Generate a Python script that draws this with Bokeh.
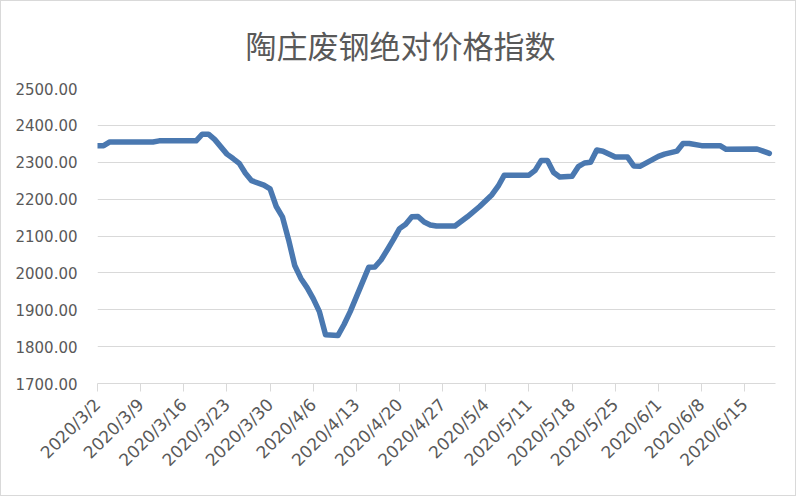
import pandas as pd
from bokeh.plotting import figure
from bokeh.models import Range1d, FixedTicker, NumeralTickFormatter
from bokeh.embed import file_html
from bokeh.resources import INLINE

title_text = "陶庄废钢绝对价格指数"

dates = ["2020-03-02", "2020-03-03", "2020-03-04", "2020-03-11", "2020-03-12", "2020-03-18",
         "2020-03-19", "2020-03-20", "2020-03-21", "2020-03-23", "2020-03-24", "2020-03-25",
         "2020-03-26", "2020-03-27", "2020-03-29", "2020-03-30", "2020-03-31", "2020-04-01",
         "2020-04-02", "2020-04-03", "2020-04-04", "2020-04-05", "2020-04-06", "2020-04-07",
         "2020-04-08", "2020-04-10", "2020-04-11", "2020-04-12", "2020-04-13", "2020-04-14",
         "2020-04-15", "2020-04-16", "2020-04-17", "2020-04-18", "2020-04-19", "2020-04-20",
         "2020-04-21", "2020-04-22", "2020-04-23", "2020-04-24", "2020-04-25", "2020-04-26",
         "2020-04-29", "2020-05-01", "2020-05-03", "2020-05-05", "2020-05-06", "2020-05-07",
         "2020-05-11", "2020-05-12", "2020-05-13", "2020-05-14", "2020-05-15", "2020-05-16",
         "2020-05-18", "2020-05-19", "2020-05-20", "2020-05-21", "2020-05-22", "2020-05-23",
         "2020-05-25", "2020-05-27", "2020-05-28", "2020-05-29", "2020-06-01", "2020-06-02",
         "2020-06-04", "2020-06-05", "2020-06-06", "2020-06-08", "2020-06-11", "2020-06-12",
         "2020-06-17", "2020-06-19"]

values = [2345, 2345, 2355, 2355, 2358, 2358,
          2376, 2376, 2362, 2322, 2310, 2297,
          2270, 2250, 2238, 2228, 2180, 2152,
          2090, 2020, 1985, 1960, 1930, 1895,
          1832, 1830, 1860, 1895, 1935, 1975,
          2015, 2016, 2035, 2062, 2090, 2120,
          2132, 2152, 2153, 2138, 2130, 2127,
          2127, 2152, 2180, 2212, 2235, 2265,
          2265, 2278, 2305, 2305, 2272, 2260,
          2262, 2288, 2298, 2300, 2333, 2330,
          2314, 2314, 2290, 2289, 2316, 2322,
          2330, 2351, 2351, 2345, 2345, 2335,
          2336, 2324]

x_tick_labels = ["2020/3/2", "2020/3/9", "2020/3/16", "2020/3/23", "2020/3/30", "2020/4/6",
                 "2020/4/13", "2020/4/20", "2020/4/27", "2020/5/4", "2020/5/11", "2020/5/18",
                 "2020/5/25", "2020/6/1", "2020/6/8", "2020/6/15"]

y_ticks = [1700, 1800, 1900, 2000, 2100, 2200, 2300, 2400, 2500]

start = pd.Timestamp("2020-03-02")
xs = [(pd.Timestamp(d) - start).days for d in dates]
tick_pos = [(pd.to_datetime(t, format="%Y/%m/%d") - start).days for t in x_tick_labels]

p = figure(width=796, height=496, output_backend="svg", toolbar_location=None,
           x_range=Range1d(0, 110), y_range=Range1d(1700, 2500),
           min_border_left=96, min_border_right=22, min_border_top=87, min_border_bottom=114)
p.styles = {"border": "1px solid #d9d9d9"}

p.title.text = title_text
p.title.align = "left"
p.title.offset = 148
p.title.vertical_align = "top"
p.title.text_font = "Noto Sans CJK SC"
p.title.text_font_size = "31px"
p.title.text_font_style = "normal"
p.title.text_color = "#595959"
p.title.standoff = 39

p.outline_line_color = None
p.background_fill_color = "white"
p.border_fill_color = "white"

p.xgrid.grid_line_color = None
p.ygrid.grid_line_color = "#d9d9d9"
p.ygrid.grid_line_width = 1

p.yaxis.ticker = FixedTicker(ticks=y_ticks)
p.yaxis.formatter = NumeralTickFormatter(format="0.00")
p.yaxis.axis_line_color = None
p.yaxis.major_tick_line_color = None
p.yaxis.minor_tick_line_color = None
p.yaxis.major_label_text_font = "DejaVu Sans"
p.yaxis.major_label_text_font_size = "15px"
p.yaxis.major_label_text_color = "#595959"
p.yaxis.major_label_standoff = 14

p.xaxis.ticker = FixedTicker(ticks=tick_pos)
p.xaxis.major_label_overrides = {pos: lab for pos, lab in zip(tick_pos, x_tick_labels)}
p.xaxis.major_label_orientation = 0.785
p.xaxis.axis_line_color = "#d9d9d9"
p.xaxis.major_tick_line_color = "#d9d9d9"
p.xaxis.major_tick_in = 0
p.xaxis.major_tick_out = 8
p.xaxis.minor_tick_line_color = None
p.xaxis.major_label_text_font = "DejaVu Sans"
p.xaxis.major_label_text_font_size = "17px"
p.xaxis.major_label_text_color = "#595959"
p.xaxis.major_label_standoff = 10

p.line(xs, values, line_width=5.5, line_color="#4a78b0", line_join="round", line_cap="round")

open("out.html", "w").write(file_html(p, INLINE))
